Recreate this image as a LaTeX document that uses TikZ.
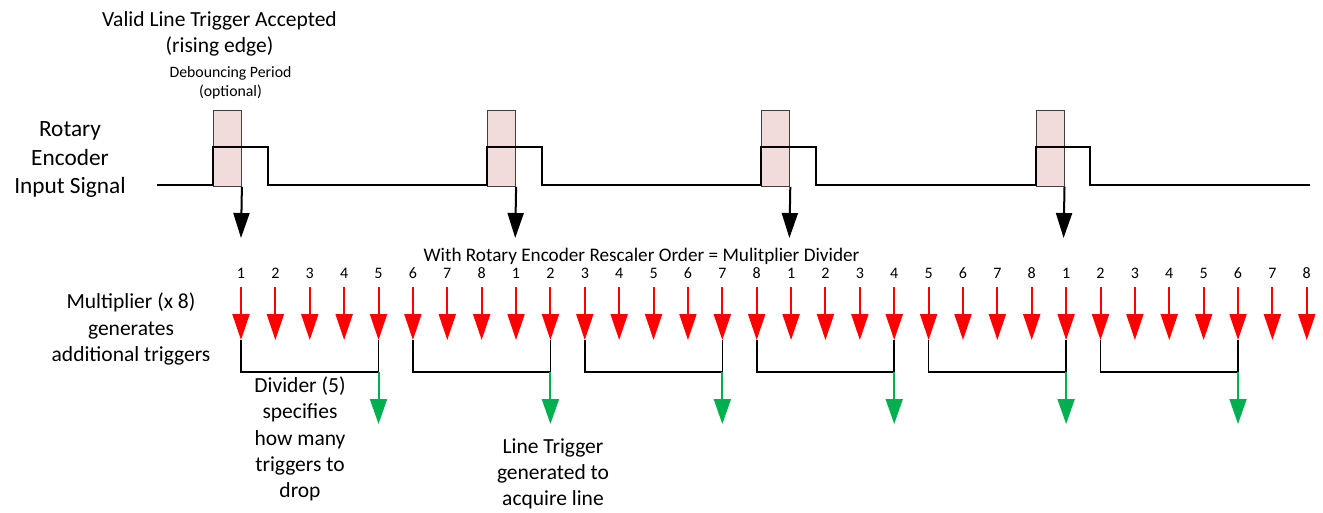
\documentclass[tikz,border=0pt]{standalone}
\usepackage{fontspec}
\setmainfont{Carlito}
\usetikzlibrary{arrows.meta}
\definecolor{pinkbox}{HTML}{F2DCDB}
\definecolor{trigred}{HTML}{FF0000}
\definecolor{triggreen}{HTML}{00B050}
\begin{document}
\begin{tikzpicture}[x=1pt,y=-1pt,
  lbl/.style={font=\fontsize{21.5pt}{26.2pt}\selectfont, align=center, inner sep=0pt},
  biglbl/.style={font=\fontsize{23.3pt}{28.5pt}\selectfont, align=center, inner sep=0pt},
  smalllbl/.style={font=\fontsize{15.8pt}{19pt}\selectfont, align=center, inner sep=0pt},
  midlbl/.style={font=\fontsize{19.2pt}{23pt}\selectfont, inner sep=0pt},
  numlbl/.style={font=\fontsize{16pt}{18pt}\selectfont, inner sep=0pt},
  debox/.style={draw=black!75, line width=0.9pt, fill=pinkbox, inner sep=0pt, minimum width=28pt, minimum height=76pt, anchor=north west},
  sig/.style={draw=black, line width=2pt, line join=miter},
  blkarrow/.style={draw=black, line width=2pt, -{Triangle[length=25pt,width=16pt]}},
  redarrow/.style={draw=trigred, line width=2pt, -{Triangle[length=26pt,width=17pt]}},
  grnarrow/.style={draw=triggreen, line width=2pt, -{Triangle[length=25pt,width=17pt]}},
  bracket/.style={draw=black, line width=1.6pt, line join=miter}]
\useasboundingbox (0,0) rectangle (1323,512);

% debouncing boxes
\foreach \k in {0,...,3} {
  \pgfmathsetmacro\bl{213+\k*274.2}
  \node[debox] (db\k) at (\bl,110) {};
}

% input signal
\draw[sig] (157,185) -- (213,185) -- (213,147) -- (267.7,147) -- (267.7,185)
  -- (487.2,185) -- (487.2,147) -- (541.9,147) -- (541.9,185)
  -- (761.4,185) -- (761.4,147) -- (816.1,147) -- (816.1,185)
  -- (1035.6,185) -- (1035.6,147) -- (1090.3,147) -- (1090.3,185) -- (1310,185);

% accepted triggers
\foreach \k in {0,...,3} {
  \pgfmathsetmacro\bx{241+\k*274.2}
  \coordinate (be\k) at (\bx,238);
  \draw[blkarrow] (db\k.south east) -- (be\k);
}

% multiplied triggers
\foreach \i in {0,...,31} {
  \pgfmathsetmacro\x{241+\i*34.38}
  \pgfmathtruncatemacro\n{mod(\i,8)+1}
  \node[numlbl] (n\i) at (\x,273) {\n};
  \coordinate (rt\i) at (\x,287);
  \coordinate (rb\i) at (\x,340);
  \coordinate (rj\i) at (\x,372);
  \coordinate (gt\i) at (\x,424);
  \draw[redarrow] (rt\i) -- (rb\i);
}

% divider brackets and line triggers
\foreach \g in {0,...,5} {
  \pgfmathtruncatemacro\ga{5*\g}
  \pgfmathtruncatemacro\gb{5*\g+4}
  \draw[bracket] (rb\ga) -- (rj\ga) -- (rj\gb) -- (rb\gb);
  \draw[grnarrow] (rj\gb) -- (gt\gb);
}

% labels
\node[lbl] (valid) at (219.5,34) {Valid Line Trigger Accepted\\(rising edge)};
\node[smalllbl] (deb) at (230.5,82.5) {Debouncing Period\\(optional)};
\node[biglbl] (rot) at (70,160) {Rotary\\Encoder\\Input Signal};
\node[midlbl] (with) at (641.5,256) {With Rotary Encoder Rescaler Order = Mulitplier Divider};
\node[lbl] (mult) at (131,329) {Multiplier (x 8)\\generates\\additional triggers};
\node[lbl] (div) at (300,439) {Divider (5)\\specifies\\how many\\triggers to\\drop};
\node[lbl] (lt) at (553,474) {Line Trigger\\generated to\\acquire line};
\end{tikzpicture}
\end{document}
